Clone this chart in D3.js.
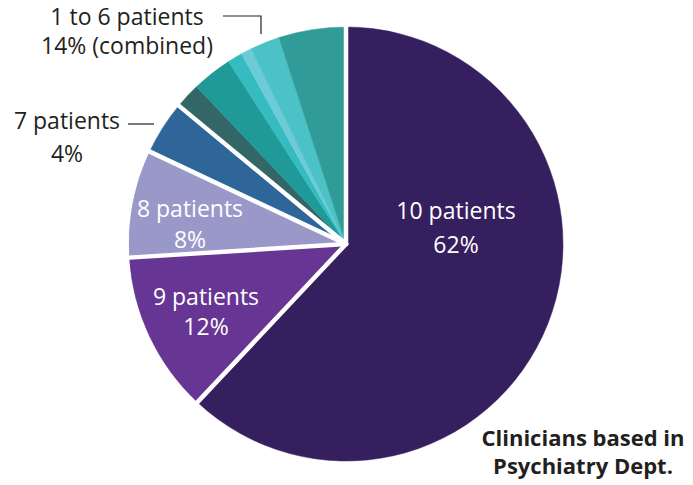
<!DOCTYPE html>
<html>
<head>
<meta charset="utf-8">
<script src="https://cdn.jsdelivr.net/npm/d3@7"></script>
<style>
  body { margin: 0; background: #fff; }
  text { font-family: "Open Sans", "Noto Sans", sans-serif; }
</style>
</head>
<body>
<script>
var categories = ["10 patients", "9 patients", "8 patients", "7 patients",
                  "6 patients", "5 patients", "4 patients", "3 patients", "2 patients", "1 patient"];
var shares = [62, 12, 8, 4, 1.9, 3.0, 1.1, 0.8, 2.2, 5.0];
var groups = ["10", "9", "8", "7", "1-6", "1-6", "1-6", "1-6", "1-6", "1-6"];
var colors = ["#361f5e", "#673593", "#9a97c9", "#2f6699",
              "#336666", "#1f9a98", "#35bcc0", "#6dcbd8", "#4bc2c5", "#319b98"];

var w = 693, h = 485;
var cx = 346, cy = 244, r = 217;

var svg = d3.select("body").append("svg")
    .attr("width", w)
    .attr("height", h);

var data = categories.map(function(c, i){
    return { name: c, value: shares[i], group: groups[i], color: colors[i] };
});

var pie = d3.pie()
    .sort(null)
    .value(function(d){ return d.value; });

var arc = d3.arc()
    .innerRadius(0)
    .outerRadius(r);

var arcs = pie(data);

var g = svg.append("g")
    .attr("transform", "translate(" + cx + "," + cy + ")");

g.selectAll(".slice")
    .data(arcs)
    .enter()
    .append("path")
    .attr("class", "slice")
    .attr("d", arc)
    .style("fill", function(d){ return d.data.color; })
    .style("stroke", function(d){ return d.data.color; })
    .style("stroke-width", 0.5);

// white separators only where a group starts
var starts = arcs.filter(function(d, i){
    return i === 0 || d.data.group !== arcs[i - 1].data.group;
});

g.selectAll(".sep")
    .data(starts)
    .enter()
    .append("line")
    .attr("class", "sep")
    .attr("x1", 0)
    .attr("y1", 0)
    .attr("x2", function(d){ return Math.sin(d.startAngle) * (r + 4); })
    .attr("y2", function(d){ return -Math.cos(d.startAngle) * (r + 4); })
    .style("stroke", "#fff")
    .style("stroke-width", 4.5)
    .style("stroke-linecap", "round");

// labels: x, then a baseline per line
var inside = [
    { lines: ["10 patients", "62%"], x: 456, y: [219, 253] },
    { lines: ["9 patients", "12%"], x: 206, y: [305, 335] },
    { lines: ["8 patients", "8%"], x: 190, y: [217, 248] }
];

var outside = [
    { lines: ["7 patients", "4%"], x: 67, y: [129, 162] },
    { lines: ["1 to 6 patients", "14% (combined)"], x: 127, y: [25, 54] }
];

function addLabel(l, fill){
    var t = svg.append("text")
        .attr("text-anchor", "middle")
        .style("fill", fill)
        .style("font-size", "23px");
    l.lines.forEach(function(s, k){
        t.append("tspan")
            .attr("x", l.x)
            .attr("y", l.y[k])
            .text(s);
    });
}

inside.forEach(function(l){ addLabel(l, "#fff"); });
outside.forEach(function(l){ addLabel(l, "#231f20"); });

// leader lines
svg.append("path")
    .attr("d", "M128,124H154")
    .style("fill", "none")
    .style("stroke", "#231f20")
    .style("stroke-width", 1.2);

svg.append("path")
    .attr("d", "M223,16H261V34")
    .style("fill", "none")
    .style("stroke", "#231f20")
    .style("stroke-width", 1.2);

// title
var title = svg.append("text")
    .attr("text-anchor", "middle")
    .style("fill", "#231f20")
    .style("font-size", "22px")
    .style("font-weight", "bold");

title.append("tspan").attr("x", 583).attr("y", 446).text("Clinicians based in");
title.append("tspan").attr("x", 583).attr("y", 474).text("Psychiatry Dept.");
</script>
</body>
</html>
